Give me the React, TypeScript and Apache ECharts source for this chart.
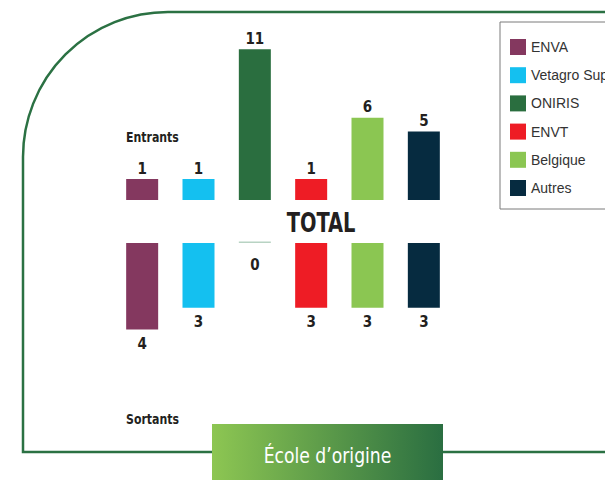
import React, { useEffect, useRef } from "react";
import * as echarts from "echarts";

const categories = ["ENVA", "Vetagro Sup", "ONIRIS", "ENVT", "Belgique", "Autres"];
const entrants = [1, 1, 11, 1, 6, 5];
const sortants = [4, 3, 0, 3, 3, 3];
const colors = ["#84385f", "#14c0f0", "#2a6e3f", "#ee1c25", "#8bc652", "#062b40"];
const zeroColor = "#b8d3c3";

const NARROW = "'Liberation Sans Narrow', 'DejaVu Sans Condensed', 'Roboto', sans-serif";

export default function App() {
  const ref = useRef<HTMLDivElement>(null);
  useEffect(() => {
    document.body.style.margin = "0";
    if (!ref.current) return;
    const chart = echarts.init(ref.current, null, { renderer: "svg" });

    const labelStyle = {
      show: true,
      fontFamily: NARROW,
      fontWeight: "bold" as const,
      fontSize: 15,
      color: "#231f20",
    };

    const topSeries = categories.map((name, i) => ({
      name,
      type: "bar",
      xAxisIndex: 0,
      yAxisIndex: 0,
      barWidth: 32,
      barGap: "-100%",
      barMinHeight: 21,
      itemStyle: { color: colors[i] },
      label: { ...labelStyle, position: "top", distance: 3 },
      data: categories.map((_, j) => (j === i ? entrants[i] : null)),
    }));

    const bottomSeries = categories.map((name, i) => ({
      name,
      type: "bar",
      xAxisIndex: 1,
      yAxisIndex: 1,
      barWidth: 32,
      barGap: "-100%",
      barMinHeight: 1.5,
      clip: false,
      itemStyle: { color: colors[i] },
      label: { ...labelStyle, position: "bottom", distance: 7 },
      data: categories.map((_, j) => {
        if (j !== i) return null;
        const v = sortants[i];
        return v === 0
          ? { value: v, itemStyle: { color: zeroColor }, label: { distance: 14 } }
          : v;
      }),
    }));

    const textEl = (
      text: string,
      x: number,
      y: number,
      fontSize: number,
      align: string,
      scaleX: number,
      bold = true,
      fill = "#231f20"
    ) => ({
      type: "text",
      z: 11,
      x,
      y,
      scaleX,
      style: {
        text,
        fill,
        fontFamily: NARROW,
        fontWeight: bold ? "bold" : "normal",
        fontSize,
        align,
        verticalAlign: "middle",
      },
    });

    chart.setOption({
      animation: false,
      backgroundColor: "#ffffff",
      legend: {
        data: categories,
        orient: "vertical",
        left: 500,
        top: 22,
        icon: "rect",
        itemWidth: 16,
        itemHeight: 16,
        itemGap: 12.2,
        padding: [17, 60, 13, 10],
        borderColor: "#7a7a7a",
        borderWidth: 1,
        textStyle: { fontFamily: "'Liberation Sans', Arial, sans-serif", fontSize: 14, color: "#333333" },
      },
      grid: [
        { left: 114, width: 338, top: 49.3, height: 150.7 },
        { left: 114, width: 338, top: 243, height: 86.4 },
      ],
      xAxis: [
        { type: "category", gridIndex: 0, data: categories, show: false },
        { type: "category", gridIndex: 1, data: categories, show: false },
      ],
      yAxis: [
        { type: "value", gridIndex: 0, min: 0, max: 11, show: false },
        { type: "value", gridIndex: 1, min: 0, max: 4, inverse: true, show: false },
      ],
      graphic: [
        {
          type: "rect",
          z: 0,
          shape: { x: 23, y: 12, width: 700, height: 440, r: [145, 0, 0, 0] },
          style: { fill: "none", stroke: "#2b7143", lineWidth: 2.5 },
        },
        {
          type: "rect",
          z: 10,
          shape: { x: 212, y: 424, width: 231, height: 60 },
          style: {
            fill: new echarts.graphic.LinearGradient(0, 0, 1, 0, [
              { offset: 0, color: "#8dc652" },
              { offset: 1, color: "#2a6e41" },
            ]),
          },
        },
        textEl("École d’origine", 327.5, 456, 22, "center", 0.87, false, "#ffffff"),
        textEl("TOTAL", 321, 223, 27, "center", 0.8),
        textEl("Entrants", 126, 137, 14, "left", 0.87),
        textEl("Sortants", 126, 419, 14, "left", 0.87),
      ],
      series: [...topSeries, ...bottomSeries],
    });

    return () => chart.dispose();
  }, []);

  return <div ref={ref} style={{ width: 605, height: 480 }} />;
}
